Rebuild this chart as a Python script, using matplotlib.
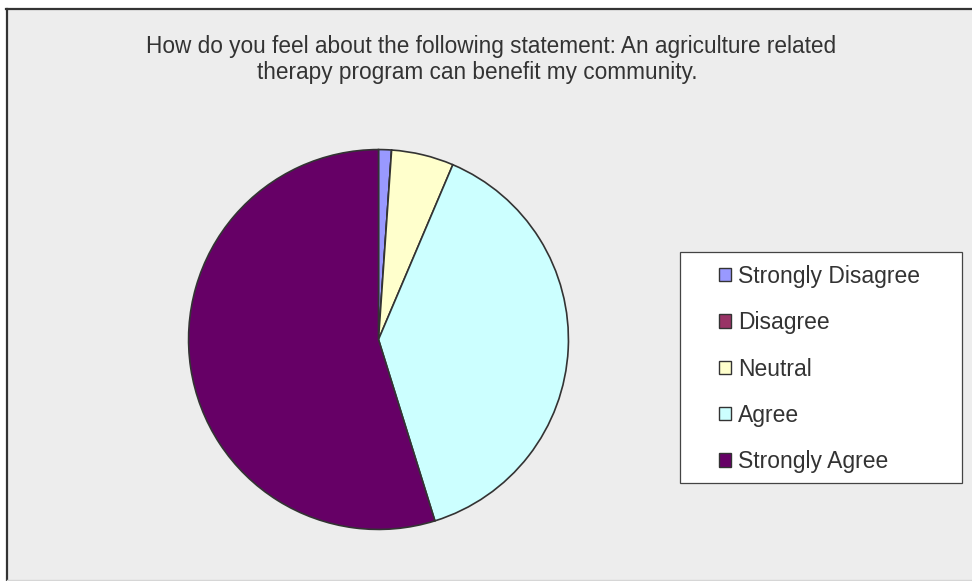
import matplotlib

matplotlib.use("Agg")
import matplotlib.pyplot as plt
from matplotlib.patches import Patch, Rectangle

# survey responses, percent of respondents
labels = ["Strongly Disagree", "Disagree", "Neutral", "Agree", "Strongly Agree"]
shares = [1.1, 0.0, 5.3, 38.8, 54.8]
colors = ["#9999FF", "#993366", "#FFFFCC", "#CCFFFF", "#660066"]
title_lines = ["How do you feel about the following statement: An agriculture related",
               "therapy program can benefit my community."]

W, H = 972, 581
fig = plt.figure(figsize=(W / 100, H / 100), dpi=100, facecolor="white")


def px(x, y):
    # pixel coords (top-left origin) -> figure fraction
    return x / W, 1 - y / H


# grey chart area with dark frame on top/left, faint line at the bottom
fig.patches.append(Rectangle(px(7, 581), 1, 1 - 10 / H, transform=fig.transFigure,
                             facecolor="#EDEDED", edgecolor="none", zorder=-2))
fig.lines.append(plt.Line2D([7 / W, 7 / W], [0, 1 - 9 / H], transform=fig.transFigure,
                            color="#333333", lw=1.6, zorder=-1))
fig.lines.append(plt.Line2D([6 / W, 1], [1 - 9 / H, 1 - 9 / H], transform=fig.transFigure,
                            color="#333333", lw=1.6, zorder=-1))
fig.lines.append(plt.Line2D([7 / W, 1], [1 - 580 / H, 1 - 580 / H], transform=fig.transFigure,
                            color="#D6D6D6", lw=1.0, zorder=-1))

cx, cy, r = 378.5, 339.5, 190.5
ax = fig.add_axes([(cx - r) / W, (H - cy - r) / H, 2 * r / W, 2 * r / H])
ax.pie(shares, colors=colors, startangle=90, counterclock=False,
       wedgeprops=dict(edgecolor="#333333", linewidth=1.2))
ax.set_xlim(-1.003, 1.003)
ax.set_ylim(-1.003, 1.003)
ax.set_aspect("equal")
ax.axis("off")

fig.text(*px(491, 47), title_lines[0], ha="center", va="center", fontsize=16.3,
         family="Liberation Sans", color="#333333")
fig.text(*px(477, 73), title_lines[1], ha="center", va="center", fontsize=16.3,
         family="Liberation Sans", color="#333333")

# legend box
fig.patches.append(Rectangle(px(680, 483), 282 / W, 231 / H, transform=fig.transFigure,
                             facecolor="white", edgecolor="#444444", lw=0.9, zorder=1))
handles = [Patch(facecolor=c, edgecolor="#333333", linewidth=1) for c in colors]
leg = fig.legend(handles, labels, loc="center left", bbox_to_anchor=px(719, 369),
                 borderaxespad=0, borderpad=0, frameon=False,
                 prop=dict(family="Liberation Sans", size=16.5),
                 handlelength=0.52, handleheight=0.52, handletextpad=0.3,
                 labelspacing=1.02)
leg.set_zorder(2)
for t in leg.get_texts():
    t.set_color("#333333")

fig.savefig("out.png", dpi=100)
